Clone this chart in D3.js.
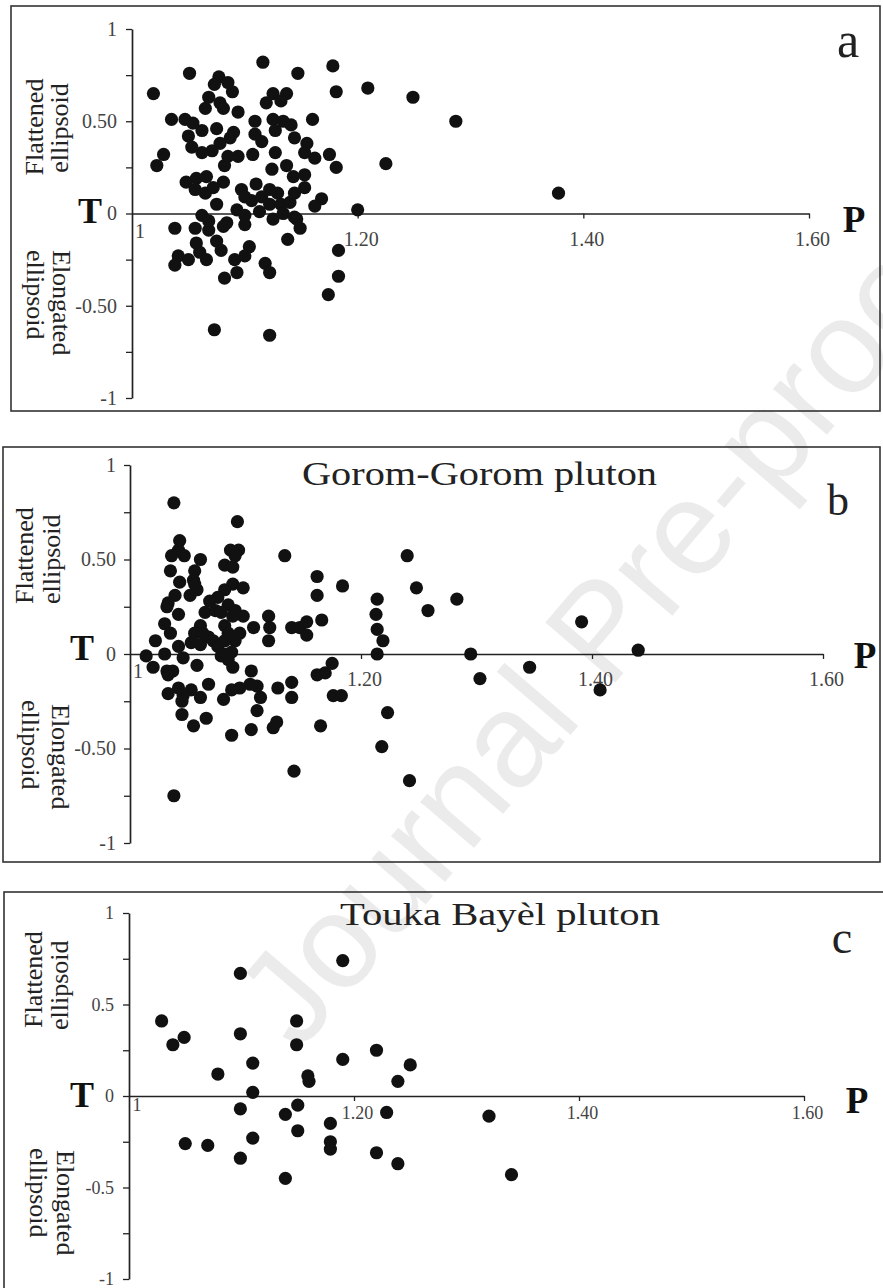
<!DOCTYPE html>
<html>
<head>
<meta charset="utf-8">
<script src="https://cdn.jsdelivr.net/npm/d3@7"></script>
<style>
body{margin:0;background:#fff}
svg{display:block}
</style>
</head>
<body>
<svg id="fig" width="883" height="1288"></svg>
<script>
// ---- data (P = degree of anisotropy, T = shape parameter) ----
// panel a
var aP = [1.116,1.051,1.147,1.178,1.019,1.181,1.077,1.073,1.085,1.089,1.068,1.078,1.081,1.065,1.094,1.125,1.137,1.132,1.119,1.035,
  1.047,1.054,1.062,1.050,1.075,1.090,1.087,1.078,1.071,1.062,1.053,1.109,1.109,1.115,1.107,1.125,1.134,1.141,1.127,1.144,
  1.155,1.153,1.162,1.160,1.175,1.181,1.085,1.094,1.082,1.127,1.124,1.137,1.143,1.153,1.028,1.022,1.048,1.057,1.066,1.081,
  1.056,1.065,1.072,1.097,1.100,1.110,1.106,1.115,1.122,1.129,1.122,1.132,1.140,1.144,1.153,1.168,1.162,1.075,1.093,1.100,
  1.113,1.125,1.134,1.144,1.062,1.068,1.056,1.068,1.038,1.084,1.081,1.100,1.149,1.146,1.138,1.057,1.075,1.079,1.041,1.050,
  1.060,1.066,1.038,1.091,1.100,1.104,1.093,1.082,1.118,1.122,1.183,1.183,1.174,1.073,1.122,1.209,1.249,1.225,1.200,1.287,1.378]
var aT = [0.82,0.76,0.76,0.80,0.65,0.66,0.74,0.70,0.71,0.66,0.63,0.60,0.57,0.57,0.55,0.65,0.65,0.61,0.60,0.51,
  0.51,0.49,0.45,0.42,0.46,0.44,0.41,0.38,0.34,0.33,0.36,0.50,0.43,0.39,0.32,0.51,0.50,0.48,0.45,0.41,
  0.38,0.33,0.30,0.51,0.32,0.25,0.31,0.31,0.26,0.33,0.24,0.26,0.20,0.21,0.32,0.26,0.17,0.19,0.20,0.17,
  0.13,0.11,0.14,0.13,0.09,0.16,0.07,0.09,0.13,0.11,0.05,0.05,0.06,0.11,0.14,0.08,0.04,0.05,0.02,-0.01,
  0.01,-0.03,0.00,-0.02,-0.01,-0.04,-0.08,-0.09,-0.08,-0.05,-0.07,-0.06,-0.08,-0.03,-0.14,-0.16,-0.15,-0.20,-0.23,-0.25,
  -0.21,-0.25,-0.28,-0.25,-0.23,-0.18,-0.32,-0.35,-0.27,-0.32,-0.20,-0.34,-0.44,-0.63,-0.66,0.68,0.63,0.27,0.02,0.50,0.11]

// panel b  Gorom-Gorom
var bP = [1.038,1.093,1.043,1.036,1.047,1.042,1.087,1.094,1.091,1.082,1.089,1.061,1.056,1.055,1.035,1.134,1.043,1.039,1.033,1.032,
  1.052,1.058,1.056,1.042,1.089,1.098,1.082,1.076,1.069,1.065,1.074,1.085,1.079,1.091,1.098,1.089,1.030,1.035,1.022,1.061,
  1.056,1.063,1.053,1.061,1.068,1.072,1.076,1.082,1.085,1.095,1.091,1.082,1.107,1.120,1.121,1.120,1.140,1.147,1.153,1.153,
  1.162,1.162,1.166,1.184,1.042,1.046,1.030,1.014,1.020,1.032,1.037,1.033,1.058,1.082,1.085,1.089,1.079,1.088,1.105,1.104,
  1.110,1.113,1.110,1.095,1.088,1.081,1.068,1.061,1.053,1.046,1.042,1.033,1.045,1.045,1.055,1.066,1.088,1.105,1.124,1.127,
  1.128,1.140,1.140,1.162,1.169,1.175,1.176,1.183,1.165,1.142,1.038,1.240,1.248,1.258,1.283,1.214,1.213,1.214,1.219,1.214,
  1.223,1.218,1.242,1.391,1.295,1.303,1.346,1.440,1.407]
var bT = [0.80,0.70,0.60,0.52,0.52,0.55,0.55,0.55,0.52,0.47,0.46,0.50,0.44,0.39,0.44,0.52,0.38,0.31,0.27,0.25,
  0.31,0.34,0.37,0.21,0.37,0.35,0.34,0.30,0.28,0.22,0.23,0.26,0.22,0.23,0.20,0.20,0.16,0.11,0.07,0.15,
  0.11,0.11,0.06,0.05,0.09,0.07,0.04,0.15,0.11,0.11,0.07,0.07,0.14,0.20,0.14,0.07,0.14,0.14,0.17,0.10,
  0.41,0.31,0.18,0.36,0.04,-0.02,0.00,-0.01,-0.07,-0.09,-0.09,-0.11,-0.06,0.00,-0.03,-0.07,-0.01,0.01,-0.09,-0.16,
  -0.17,-0.23,-0.30,-0.18,-0.19,-0.24,-0.16,-0.23,-0.19,-0.22,-0.18,-0.21,-0.25,-0.32,-0.38,-0.34,-0.43,-0.40,-0.39,-0.36,
  -0.18,-0.15,-0.23,-0.11,-0.10,-0.05,-0.22,-0.22,-0.38,-0.62,-0.75,0.52,0.35,0.23,0.29,0.29,0.21,0.13,0.07,0.00,
  -0.31,-0.49,-0.67,0.17,0.00,-0.13,-0.07,0.02,-0.19]

// panel c  Touka Bayèl
var cP = [1.029,1.039,1.049,1.099,1.099,1.190,1.149,1.149,1.220,1.190,1.110,1.079,1.159,1.160,1.250,1.239,1.110,1.099,1.150,1.139,
  1.179,1.229,1.150,1.110,1.050,1.070,1.179,1.179,1.099,1.220,1.239,1.139,1.320,1.340]
var cT = [0.41,0.28,0.32,0.67,0.34,0.74,0.41,0.28,0.25,0.20,0.18,0.12,0.11,0.08,0.17,0.08,0.02,-0.07,-0.05,-0.10,
  -0.15,-0.09,-0.19,-0.23,-0.26,-0.27,-0.25,-0.29,-0.34,-0.31,-0.37,-0.45,-0.11,-0.43]

// ticks
var yTickVals = [1,0.75,0.5,0.25,0,-0.25,-0.5,-0.75,-1]
var yLabelVals = [1,0.5,0,-0.5,-1]
var yLabelsAB = ["1","0.50","0","-0.50","-1"]
var yLabelsC = ["1","0.5","0","-0.5","-1"]
var xTickVals = [1.2,1.4,1.6]
var xTickLabels = ["1.20","1.40","1.60"]
var xStartLabel = "1"

var serif = "'Liberation Serif','Times New Roman',serif"
var svg = d3.select("#fig")

// watermark behind everything (runs off the right edge like the original)
svg.append("text")
  .attr("transform","translate(262,1022) rotate(-49.5)")
  .attr("text-anchor","start").attr("dy","0.36em")
  .attr("font-family","'Liberation Sans',Arial,sans-serif")
  .attr("font-size",134).attr("fill","#000").attr("fill-opacity",0.08)
  .text("Journal Pre-proof")

// 패널 하나 그리기
function draw_panel(o, P, T, yLab){
  var g = svg.append("g")
  g.append("rect").attr("x",o.box[0]).attr("y",o.box[1]).attr("width",o.box[2]).attr("height",o.box[3])
    .attr("fill","none").attr("stroke","#333").attr("stroke-width",1.6)

  var x = d3.scaleLinear().domain([1,1.6]).range([o.x0,o.x1])
  var y = d3.scaleLinear().domain([-1,1]).range([o.yb,o.yt])

  // y axis
  var ya = d3.axisLeft(y).tickValues(yTickVals).tickSize(6).tickSizeOuter(0).tickPadding(o.ypad)
    .tickFormat(function(d){ var k = yLabelVals.indexOf(d); return k==-1 ? "" : yLab[k] })
  var yg = g.append("g").attr("transform","translate("+x(1)+",0)").call(ya)
  yg.attr("font-family",serif).attr("font-size",o.yfs)
  yg.select(".domain").attr("stroke","#222").attr("stroke-width",1.7)
  yg.selectAll("line").attr("stroke","#222").attr("stroke-width",1.3)
  yg.selectAll("text").attr("fill","#444")

  // x axis along T = 0
  var xa = d3.axisBottom(x).tickValues(xTickVals).tickSize(5).tickSizeOuter(0)
    .tickFormat(function(d,i){ return xTickLabels[i] })
  var xg = g.append("g").attr("transform","translate(0,"+y(0)+")").call(xa)
  xg.attr("font-family",serif).attr("font-size",o.xfs)
  xg.select(".domain").attr("stroke","#222").attr("stroke-width",1.7)
  xg.selectAll("line").attr("stroke","#222").attr("stroke-width",1.3)
  xg.selectAll("text").attr("y",o.xoff).attr("dy",0).attr("dx",3).attr("fill","#444")
  g.append("text").attr("x",x(1)+8).attr("y",y(0)+o.xoff-8).attr("text-anchor","middle")
    .attr("font-family",serif).attr("font-size",o.xfs).attr("fill","#444").text(xStartLabel)

  // dots
  g.selectAll("circle.pt").data(d3.range(P.length)).enter().append("circle").attr("class","pt")
    .attr("cx",function(i){ return x(P[i]) }).attr("cy",function(i){ return y(T[i]) })
    .attr("r",6.6).attr("fill","#111")

  // T , P letters
  g.append("text").attr("x",o.tx).attr("y",o.ty).attr("text-anchor","middle")
    .attr("font-family",serif).attr("font-weight","bold").attr("font-size",36).attr("fill","#111").text("T")
  g.append("text").attr("x",o.px).attr("y",o.py).attr("text-anchor","middle")
    .attr("font-family",serif).attr("font-weight","bold").attr("font-size",37).attr("fill","#111").text("P")
  // panel letter
  g.append("text").attr("x",o.lx).attr("y",o.ly).attr("text-anchor","middle")
    .attr("font-family",serif).attr("font-size",o.lfs).attr("fill","#222").text(o.letter)
  if(o.title){
    g.append("text").attr("x",o.title[1]).attr("y",o.title[2])
      .attr("textLength",o.title[3]).attr("lengthAdjust","spacingAndGlyphs")
      .attr("font-family",serif).attr("font-size",o.title[4]).attr("fill","#222").text(o.title[0])
  }

  // rotated side labels
  function side(txt, bx, cy, rot, anchor){
    g.append("text").attr("transform","translate("+bx+","+cy+") rotate("+rot+")")
      .attr("text-anchor",anchor).attr("font-family",serif).attr("font-size",26).attr("fill","#222").text(txt)
  }
  side("Flattened", o.fl[0], o.fl[1], -90, o.fl[2])
  side("ellipsoid", o.fe[0], o.fe[1], -90, o.fe[2])
  side("Elongated", o.el[0], o.el[1], 90, "start")
  side("ellipsoid", o.ee[0], o.ee[1], 90, "start")
}

draw_panel({box:[11,6,869,405], x0:132, x1:809, yt:29, yb:398, ypad:9, yfs:20, xfs:20, xoff:32,
  tx:90, ty:223, px:854, py:232, lx:848, ly:57, lfs:50, letter:"a",
  fl:[43,127,"middle"], fe:[68,128,"middle"], el:[53,250], ee:[27,250]}, aP, aT, yLabelsAB)

draw_panel({box:[3,447,877,415], x0:130, x1:823, yt:465, yb:843, ypad:8, yfs:20, xfs:20, xoff:32,
  tx:82, ty:660, px:865, py:668, lx:838, ly:515, lfs:44, letter:"b",
  title:["Gorom-Gorom pluton",302,485,355,34],
  fl:[33,604,"start"], fe:[60,604,"start"], el:[52,704], ee:[22,700]}, bP, bT, yLabelsAB)

draw_panel({box:[4,892,900,420], x0:129, x1:804, yt:913, yb:1279, ypad:9, yfs:18, xfs:18, xoff:23,
  tx:82, ty:1107, px:857, py:1113, lx:842, ly:953, lfs:46, letter:"c",
  title:["Touka Bayèl pluton",340,925,320,32],
  fl:[42,1028,"start"], fe:[68,1030,"start"], el:[57,1150], ee:[30,1148]}, cP, cT, yLabelsC)
</script>
</body>
</html>
